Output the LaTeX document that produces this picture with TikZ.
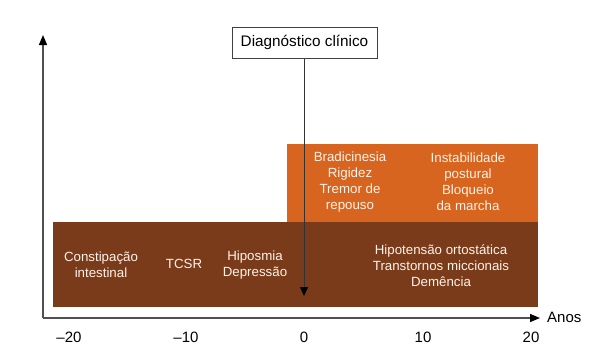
\documentclass[tikz,border=0pt]{standalone}
\usepackage{fontspec}
\setmainfont{Liberation Sans}
\usetikzlibrary{arrows.meta}
\definecolor{brownbox}{HTML}{7A3B1B}
\definecolor{orangebox}{HTML}{D7651F}
\definecolor{boxtext}{HTML}{FFF2E8}
\definecolor{axisgray}{HTML}{505050}
\tikzset{
  bodytext/.style={text=boxtext, align=center, inner sep=0pt,
    font=\fontsize{13.3}{16}\selectfont},
  ticklabel/.style={text=black, inner sep=0pt, font=\fontsize{15}{18}\selectfont},
  axisline/.style={draw=axisgray, line width=1.4pt,
    -{Triangle[length=10pt,width=8pt,fill=black,color=black]}},
  diagline/.style={draw=black!80, line width=1pt,
    -{Triangle[length=9pt,width=8pt,fill=black,color=black]}},
  diagbox/.style={draw=black!75, line width=1pt, fill=white, inner sep=0pt,
    minimum width=145pt, minimum height=31pt, font=\fontsize{15.3}{18}\selectfont}
}
\begin{document}
\begin{tikzpicture}[x=1pt,y=-1pt]
\useasboundingbox (0,0) rectangle (615,359);
% boxes
\fill[brownbox] (53,222) rectangle (538,307);
\fill[orangebox] (287,144) rectangle (538,222);
% axes
\coordinate (origin) at (43,318);
\coordinate (ytip) at (43,35);
\coordinate (xtip) at (540,318);
\draw[axisline] (origin) -- (ytip);
\draw[axisline] (origin) -- (xtip);
\node[ticklabel, anchor=west] (anos) at (547,317) {Anos};
% tick labels
\node[ticklabel] (tm20) at (69,337) {–20};
\node[ticklabel] (tm10) at (186,337) {–10};
\node[ticklabel] (t0) at (304,337) {0};
\node[ticklabel] (t10) at (423,337) {10};
\node[ticklabel] (t20) at (531,337) {20};
% orange box texts
\node[bodytext] (motor) at (350,182) {Bradicinesia\\Rigidez\\Tremor de\\repouso};
\node[bodytext] (postural) at (468,182) {Instabilidade\\postural\\Bloqueio\\da marcha};
% brown box texts
\node[bodytext] (constip) at (101,265) {Constipação\\intestinal};
\node[bodytext] (tcsr) at (184,264) {TCSR};
\node[bodytext] (hipos) at (255,265) {Hiposmia\\Depressão};
\node[bodytext] (hipot) at (441,266) {Hipotensão ortostática\\Transtornos miccionais\\Demência};
% diagnosis
\node[diagbox] (diag) at (304.5,42.5) {Diagnóstico clínico};
\coordinate (diagend) at (304,296);
\draw[diagline] (diag.south -| diagend) -- (diagend);
\end{tikzpicture}
\end{document}
